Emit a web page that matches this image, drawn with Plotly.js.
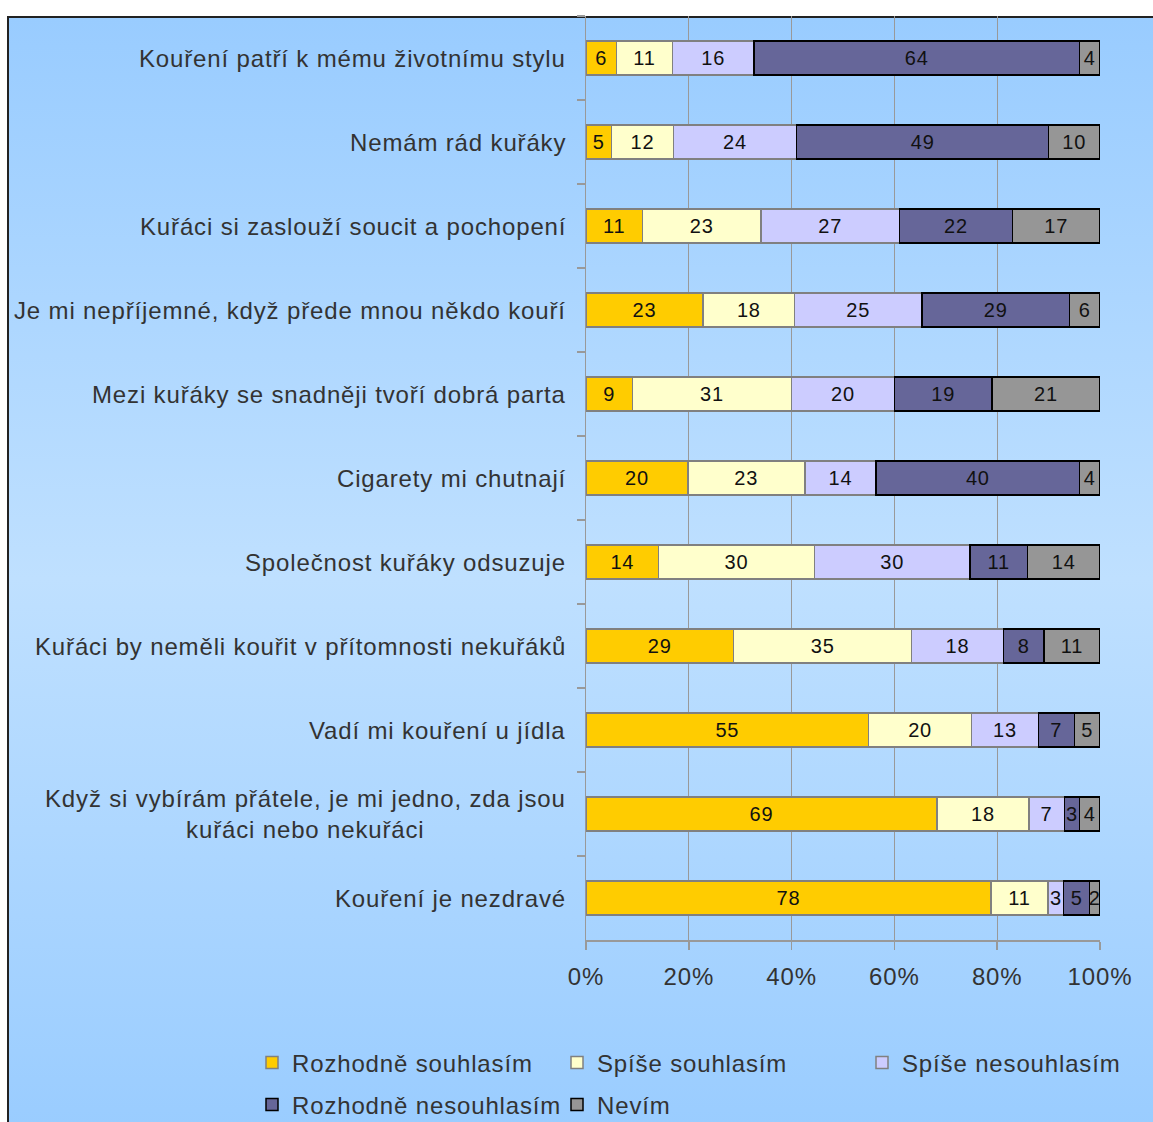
<!DOCTYPE html>
<html>
<head>
<meta charset="utf-8">
<script src="https://cdn.plot.ly/plotly-3.0.1.min.js"></script>
<style>
  html, body { margin: 0; padding: 0; background: #ffffff; }
  #bg {
    position: absolute; left: 7px; top: 16px; width: 1160px; height: 1120px;
    border-left: 2px solid #222; border-top: 2px solid #222;
    background: linear-gradient(to bottom, #99ccff 0%, #bfe0ff 50%, #99ccff 100%);
  }
  #chart { position: absolute; left: 0; top: 0; width: 1153px; height: 1122px; }
  svg text { letter-spacing: 0.85px; }
</style>
</head>
<body>
<div id="bg"></div>
<div id="chart"></div>
<script>
// Statements (top to bottom)
const categories = [
  "Kouření patří k mému životnímu stylu",
  "Nemám rád kuřáky",
  "Kuřáci si zaslouží soucit a pochopení",
  "Je mi nepříjemné, když přede mnou někdo kouří",
  "Mezi kuřáky se snadněji tvoří dobrá parta",
  "Cigarety mi chutnají",
  "Společnost kuřáky odsuzuje",
  "Kuřáci by neměli kouřit v přítomnosti nekuřáků",
  "Vadí mi kouření u jídla",
  "Když si vybírám přátele, je mi jedno, zda jsou<br>kuřáci nebo nekuřáci",
  "Kouření je nezdravé"
];

const seriesNames = ["Rozhodně souhlasím", "Spíše souhlasím", "Spíše nesouhlasím", "Rozhodně nesouhlasím", "Nevím"];

const rozhodneSouhlasim   = [6, 5, 11, 23, 9, 20, 14, 29, 55, 69, 78];
const spiseSouhlasim      = [11, 12, 23, 18, 31, 23, 30, 35, 20, 18, 11];
const spiseNesouhlasim    = [16, 24, 27, 25, 20, 14, 30, 18, 13, 7, 3];
const rozhodneNesouhlasim = [64, 49, 22, 29, 19, 40, 11, 8, 7, 3, 5];
const nevim               = [4, 10, 17, 6, 21, 4, 14, 11, 5, 4, 2];

const xTickVals = [0, 20, 40, 60, 80, 100];

const seriesValues = [rozhodneSouhlasim, spiseSouhlasim, spiseNesouhlasim, rozhodneNesouhlasim, nevim];
const fillColors = ["#ffcc00", "#ffffcc", "#ccccff", "#666699", "#969696"];
const lineColors = ["#808080", "#808080", "#808080", "#000000", "#000000"];
const legendIds = ["legend", "legend", "legend", "legend2", "legend2"];

const FONT = '"Liberation Sans", Arial, sans-serif';

const traces = seriesValues.map((vals, i) => ({
  type: 'bar',
  orientation: 'h',
  name: seriesNames[i],
  legend: legendIds[i],
  y: categories,
  x: vals,
  text: vals.map(String),
  texttemplate: '%{text}',
  textposition: 'inside',
  insidetextanchor: 'middle',
  textangle: 0,
  constraintext: 'none',
  textfont: { family: FONT, size: 20, color: '#111111' },
  marker: { color: fillColors[i], line: { color: lineColors[i], width: 1.5 } },
  hoverinfo: 'skip'
}));

const annotations = categories.map(c => ({
  x: 0, xref: 'paper', xanchor: 'right', xshift: -18,
  y: c, yref: 'y', yanchor: 'middle',
  text: c, align: 'center', showarrow: false,
  font: { family: FONT, size: 24, color: '#333333' }
}));

const PLOT_L = 586, PLOT_W = 514, PLOT_BOTTOM = 940, PLOT_H = 924;
const legendCommon = {
  orientation: 'h',
  xanchor: 'left', yanchor: 'middle',
  entrywidth: 260, entrywidthmode: 'pixels',
  traceorder: 'normal',
  bgcolor: 'rgba(0,0,0,0)',
  font: { family: FONT, size: 24, color: '#333333' }
};

const layout = {
  width: 1153, height: 1122,
  margin: { l: PLOT_L, r: 53, t: 16, b: 182, autoexpand: false },
  paper_bgcolor: 'rgba(0,0,0,0)',
  plot_bgcolor: 'rgba(0,0,0,0)',
  barmode: 'stack',
  barnorm: 'percent',
  bargap: 0.595,
  font: { family: FONT, size: 24, color: '#333333' },
  xaxis: {
    range: [0, 100],
    tickvals: xTickVals,
    ticktext: xTickVals.map(v => v + '%'),
    showgrid: true, gridcolor: '#999999', gridwidth: 1,
    zeroline: false,
    showline: true, linecolor: '#999999', linewidth: 1.5,
    ticks: 'outside', ticklen: 8, tickcolor: '#999999', tickwidth: 1.5,
    ticklabelstandoff: 7,
    tickfont: { family: FONT, size: 24, color: '#333333' },
    fixedrange: true
  },
  yaxis: {
    type: 'category',
    categoryorder: 'array', categoryarray: categories,
    autorange: 'reversed',
    showticklabels: false,
    showgrid: false, zeroline: false,
    showline: true, linecolor: '#999999', linewidth: 1.5,
    ticks: 'outside', tickson: 'boundaries', ticklen: 8, tickcolor: '#999999', tickwidth: 1.5,
    fixedrange: true
  },
  showlegend: true,
  legend: Object.assign({}, legendCommon, {
    x: (252 - PLOT_L) / PLOT_W,
    y: (PLOT_BOTTOM - 1063) / PLOT_H
  }),
  legend2: Object.assign({}, legendCommon, {
    x: (252 - PLOT_L) / PLOT_W,
    y: (PLOT_BOTTOM - 1105) / PLOT_H
  }),
  annotations: annotations,
  hovermode: false
};

Plotly.newPlot('chart', traces, layout, { staticPlot: true, displayModeBar: false });
</script>
</body>
</html>
